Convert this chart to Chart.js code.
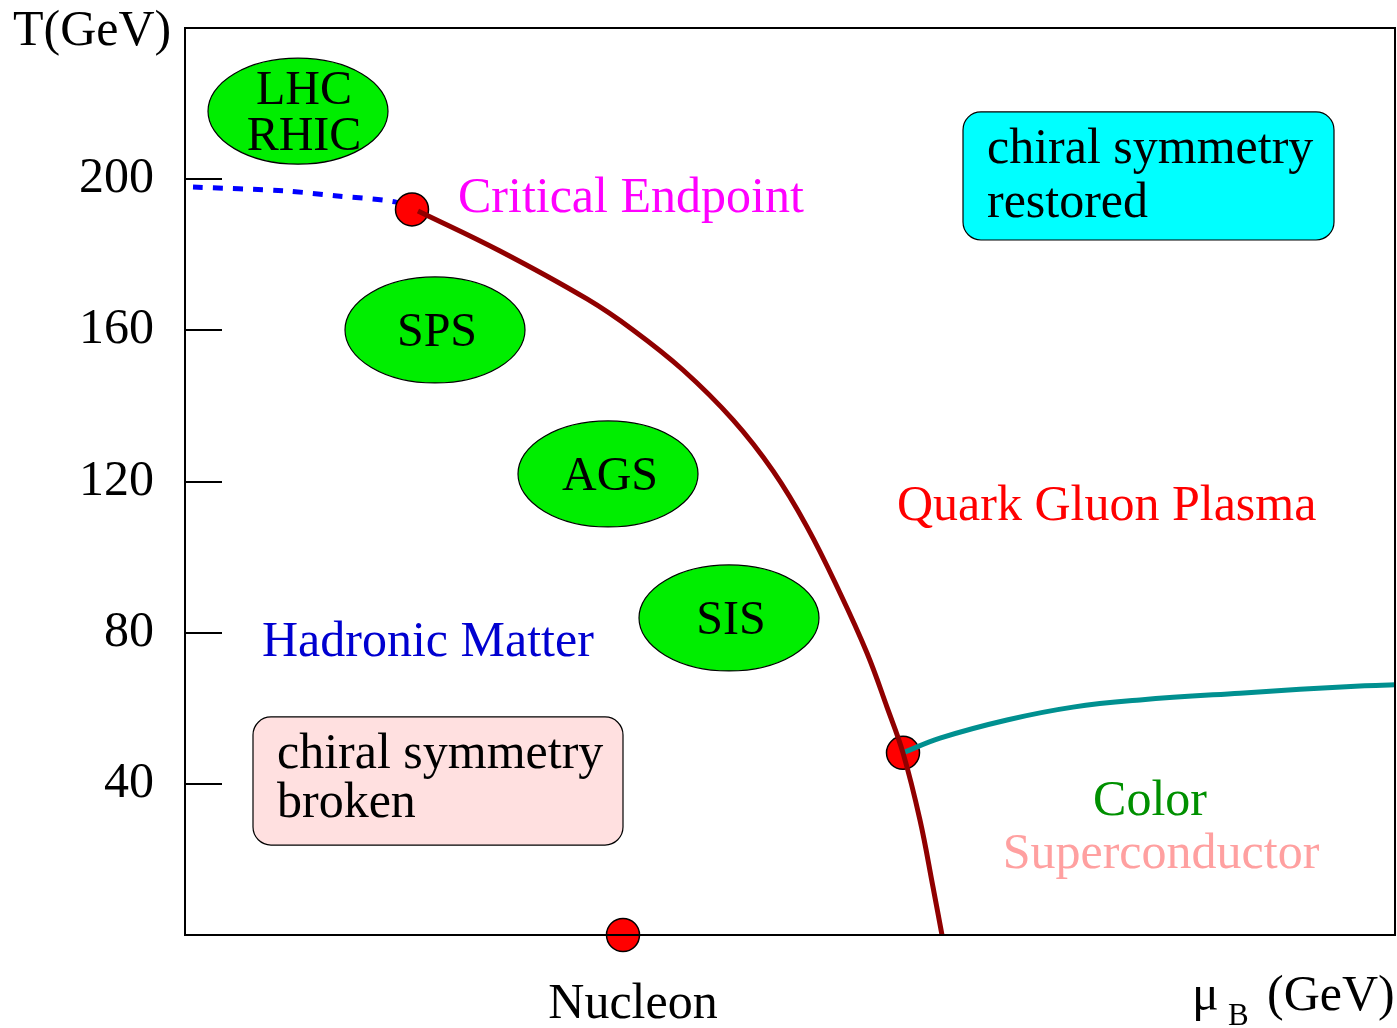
<!DOCTYPE html>
<html>
<head>
<meta charset="utf-8">
<title>QCD phase diagram</title>
<script src="https://cdn.jsdelivr.net/npm/chart.js@4.4.1/dist/chart.umd.min.js"></script>
<style>
  html, body { margin: 0; padding: 0; background: #fff; overflow: hidden; }
  #wrap { width: 1397px; height: 1028px; }
  canvas { display: block; }
</style>
</head>
<body>
<div id="wrap"><canvas id="phase" width="1397" height="1028"></canvas></div>
<script>
// Crossover line (dashed), from mu_B = 0 up to the critical endpoint
const crossoverMu = [0.008, 0.100, 0.150, 0.210, 0.227];
const crossoverT  = [197.9, 196.9, 195.6, 194.0, 192.0];

// First-order transition line, critical endpoint down to T = 0
const firstOrderMu = [0.233, 0.315, 0.402, 0.448, 0.498, 0.548, 0.588, 0.622, 0.655, 0.682, 0.702, 0.718, 0.735, 0.748, 0.757];
const firstOrderT  = [191.6, 181.0, 168.3, 160.1, 149.5, 136.3, 122.8, 108.0, 90.5, 74.6, 60.3, 48.2, 30.4, 12.7, 0];

// Colour-superconductor boundary
const cscMu = [0.718, 0.755, 0.822, 0.888, 0.955, 1.055, 1.175, 1.21];
const cscT  = [48.2, 52.1, 56.9, 60.3, 62.2, 64.0, 65.9, 66.2];

// Marked points: critical endpoint, tricritical point, nuclear matter
const pointMu = [0.227, 0.718, 0.438];
const pointT  = [192.0, 48.2, 0];

// Accelerator regions
const experiments = [['LHC', 'RHIC'], ['SPS'], ['AGS'], ['SIS']];
const expMu = [0.113, 0.250, 0.423, 0.544];
const expT  = [218.0, 160.1, 122.0, 83.9];

// Temperature ticks
const tempTicks = [40, 80, 120, 160, 200];

const SERIF = '"Liberation Serif", "Times New Roman", serif';

function toXY(mu, t) { return mu.map((v, i) => ({ x: v, y: t[i] })); }

function text(ctx, str, x, y, color, size, align) {
  ctx.save();
  ctx.font = size + 'px ' + SERIF;
  ctx.fillStyle = color;
  ctx.textAlign = align || 'left';
  ctx.textBaseline = 'alphabetic';
  ctx.fillText(str, x, y);
  ctx.restore();
}

const decor = {
  id: 'decor',
  beforeDatasetsDraw(chart) {
    const { ctx, scales: { x, y } } = chart;
    ctx.save();
    // state boxes
    const boxes = [
      { x0: 0.778, x1: 1.149, yTop: 217.8, yBot: 183.9, fill: '#00ffff' },
      { x0: 0.068, x1: 0.438, yTop: 57.7, yBot: 23.8, fill: '#ffe0e0' }
    ];
    boxes.forEach(b => {
      const L = x.getPixelForValue(b.x0), R = x.getPixelForValue(b.x1);
      const T = y.getPixelForValue(b.yTop), B = y.getPixelForValue(b.yBot);
      ctx.beginPath();
      ctx.roundRect(L, T, R - L, B - T, 18);
      ctx.fillStyle = b.fill;
      ctx.fill();
      ctx.lineWidth = 1.2;
      ctx.strokeStyle = '#000';
      ctx.stroke();
    });
    // experiment ellipses
    experiments.forEach((lines, i) => {
      const cx = x.getPixelForValue(expMu[i]);
      const cy = y.getPixelForValue(expT[i]);
      ctx.beginPath();
      ctx.ellipse(cx, cy, 90, 53, 0, 0, Math.PI * 2);
      ctx.fillStyle = '#00ee00';
      ctx.fill();
      ctx.lineWidth = 1.2;
      ctx.strokeStyle = '#000';
      ctx.stroke();
      const lh = 46;
      const first = cy + 16 - (lines.length - 1) * lh / 2;
      const dx = lines.length > 1 ? 6 : 2;
      lines.forEach((s, k) => text(ctx, s, cx + dx, first + k * lh, '#000', 48, 'center'));
    });
    ctx.restore();
  },
  afterDatasetsDraw(chart) {
    const { ctx, chartArea: a, scales: { y } } = chart;
    ctx.save();
    ctx.strokeStyle = '#000';
    ctx.lineWidth = 2;
    ctx.strokeRect(a.left, a.top, a.right - a.left, a.bottom - a.top);
    ctx.beginPath();
    tempTicks.forEach(v => {
      const py = Math.round(y.getPixelForValue(v));
      ctx.moveTo(a.left, py);
      ctx.lineTo(a.left + 37, py);
    });
    ctx.stroke();
    ctx.restore();
  },
  afterDraw(chart) {
    const { ctx, chartArea: a, scales: { x, y } } = chart;
    const X = v => x.getPixelForValue(v), Y = v => y.getPixelForValue(v);
    // region labels
    text(ctx, 'Critical Endpoint', X(0.273), Y(191.3), '#ff00ff', 50);
    text(ctx, 'Quark Gluon Plasma', X(0.712), Y(109.8), '#ff0000', 50);
    text(ctx, 'Hadronic Matter', X(0.077), Y(73.8), '#0000d0', 50);
    text(ctx, 'Color', X(0.965), Y(31.8), '#009000', 50, 'center');
    text(ctx, 'Superconductor', X(0.976), Y(17.7), '#ffa0a0', 50, 'center');
    text(ctx, 'chiral symmetry', X(0.802), Y(204.3), '#000', 50);
    text(ctx, 'restored', X(0.802), Y(190.0), '#000', 50);
    text(ctx, 'chiral symmetry', X(0.092), Y(44.2), '#000', 50);
    text(ctx, 'broken', X(0.092), Y(31.2), '#000', 50);
    // axis titles
    text(ctx, 'Nucleon', X(0.448), a.bottom + 83, '#000', 50, 'center');
    text(ctx, 'T(GeV)', 13, a.top + 17, '#000', 50);
    text(ctx, '\u03bc', 1192, a.bottom + 75, '#000', 50);
    text(ctx, 'B', 1228, a.bottom + 90, '#000', 31);
    text(ctx, '(GeV)', 1267, a.bottom + 75, '#000', 50);
  }
};

new Chart(document.getElementById('phase'), {
  type: 'line',
  data: {
    datasets: [
      {
        label: 'first order',
        data: toXY(firstOrderMu, firstOrderT),
        borderColor: '#900000',
        borderWidth: 5,
        pointRadius: 0,
        tension: 0.4,
        fill: false,
        order: 0
      },
      {
        label: 'CSC boundary',
        data: toXY(cscMu, cscT),
        borderColor: '#009090',
        borderWidth: 5,
        pointRadius: 0,
        tension: 0.4,
        fill: false,
        order: 0
      },
      {
        label: 'points',
        data: toXY(pointMu, pointT),
        showLine: false,
        pointRadius: 16.5,
        pointBackgroundColor: '#ff0000',
        pointBorderColor: '#000',
        pointBorderWidth: 1.5,
        clip: false,
        order: 1
      },
      {
        label: 'crossover',
        data: toXY(crossoverMu, crossoverT),
        borderColor: '#0000ff',
        borderWidth: 5,
        borderDash: [10, 10],
        pointRadius: 0,
        tension: 0.3,
        fill: false,
        order: 2
      }
    ]
  },
  options: {
    responsive: false,
    animation: false,
    events: [],
    layout: { autoPadding: false, padding: { top: 28, right: 2, bottom: 93, left: 0 } },
    plugins: { legend: { display: false }, tooltip: { enabled: false } },
    scales: {
      x: { type: 'linear', min: 0, max: 1.21, display: false },
      y: {
        type: 'linear',
        min: 0,
        max: 240,
        afterBuildTicks: s => { s.ticks = tempTicks.map(v => ({ value: v })); },
        afterFit: s => { s.width = 185; s.paddingTop = 0; s.paddingBottom = 0; },
        grid: { display: false, drawTicks: false },
        border: { display: false },
        ticks: { color: '#000', font: { family: SERIF, size: 50 }, padding: 31 }
      }
    }
  },
  plugins: [decor]
});
</script>
</body>
</html>
